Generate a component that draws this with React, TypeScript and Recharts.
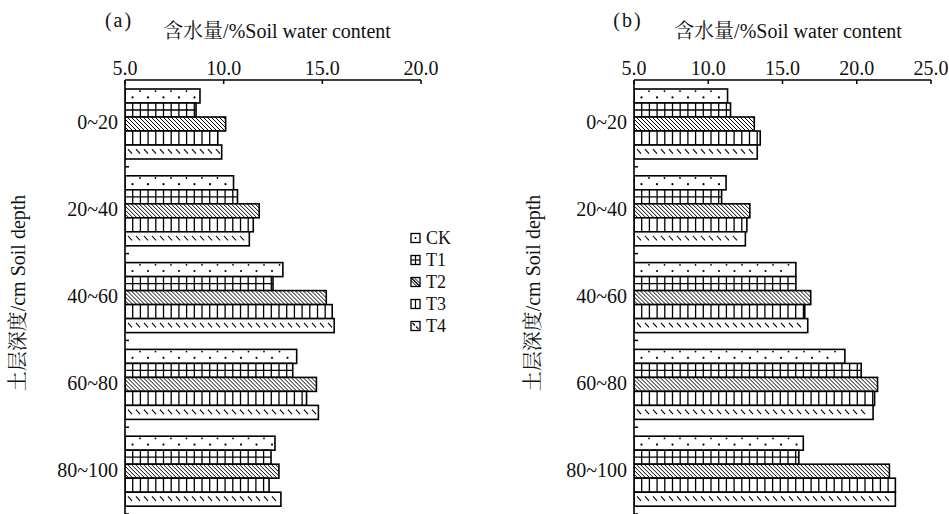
import React from 'react';
import { BarChart, Bar, XAxis, YAxis, Legend } from 'recharts';

const depths = ['0~20', '20~40', '40~60', '60~80', '80~100'];
const seriesNames = ['CK', 'T1', 'T2', 'T3', 'T4'];

// Panel (a)
const ckA = [8.8, 10.5, 13.0, 13.7, 12.6];
const t1A = [8.6, 10.7, 12.5, 13.5, 12.4];
const t2A = [10.1, 11.8, 15.2, 14.7, 12.8];
const t3A = [9.7, 11.5, 15.5, 14.2, 12.3];
const t4A = [9.9, 11.3, 15.6, 14.8, 12.9];
const ticksA = [5, 10, 15, 20];

// Panel (b)
const ckB = [11.3, 11.2, 15.9, 19.2, 16.4];
const t1B = [11.5, 10.9, 15.9, 20.3, 16.1];
const t2B = [13.1, 12.8, 16.9, 21.4, 22.2];
const t3B = [13.5, 12.6, 16.5, 21.2, 22.6];
const t4B = [13.3, 12.5, 16.7, 21.1, 22.6];
const ticksB = [5, 10, 15, 20, 25];

const xTitle = '含水量/%Soil water content';
const yTitle = '土层深度/cm Soil depth';

const FONT = "'Liberation Serif', 'Times New Roman', 'Noto Serif CJK SC', 'Noto Sans CJK SC', serif";

const build = (arrs: number[][]) =>
  depths.map((d, i) => ({
    depth: d,
    CK: arrs[0][i],
    T1: arrs[1][i],
    T2: arrs[2][i],
    T3: arrs[3][i],
    T4: arrs[4][i],
  }));

const dataA = build([ckA, t1A, t2A, t3A, t4A]);
const dataB = build([ckB, t1B, t2B, t3B, t4B]);

function patternLines(kind: string, x: number, y: number, w: number, h: number) {
  const els: React.ReactNode[] = [];
  const k = (i: number) => `${kind}-${i}`;
  if (kind === 'CK') {
    let i = 0;
    for (let c = x + 7.5; c < x + w - 2; c += 15.5) {
      els.push(<circle key={k(i++)} cx={c} cy={y + h * 0.6} r={1.1} fill="#000" />);
    }
    for (let c = x + 15; c < x + w - 2; c += 15.5) {
      els.push(<circle key={k(i++)} cx={c} cy={y + 2.2} r={0.9} fill="#000" />);
    }
  } else if (kind === 'T1' || kind === 'T3') {
    let i = 0;
    for (let c = x + 7.7; c < x + w - 1; c += 7.7) {
      els.push(<line key={k(i++)} x1={c} x2={c} y1={y} y2={y + h} stroke="#000" strokeWidth={1.3} />);
    }
    if (kind === 'T1') {
      els.push(<line key={k(i++)} x1={x} x2={x + w} y1={y + h / 2} y2={y + h / 2} stroke="#000" strokeWidth={1.3} />);
    }
  } else if (kind === 'T2') {
    let i = 0;
    for (let c = x - h; c < x + w; c += 4) {
      const t0 = Math.max(0, x - c);
      const t1 = Math.min(h, x + w - c);
      if (t1 > t0) {
        els.push(<line key={k(i++)} x1={c + t0} y1={y + t0} x2={c + t1} y2={y + t1} stroke="#000" strokeWidth={1} />);
      }
    }
  } else if (kind === 'T4') {
    let i = 0;
    for (let c = x + 3; c < x + w - 5; c += 8) {
      els.push(<line key={k(i++)} x1={c} y1={y + h * 0.3} x2={c + 4} y2={y + h * 0.62} stroke="#000" strokeWidth={1.1} />);
    }
  }
  return els;
}

const makeShape = (kind: string) => (p: any) => {
  const { x, y, width: w, height: h } = p;
  if (!(w > 0) || !(h > 0)) return <g />;
  return (
    <g>
      <rect x={x} y={y} width={w} height={h} fill="#fff" />
      {patternLines(kind, x, y, w, h)}
      <rect x={x} y={y} width={w} height={h} fill="none" stroke="#000" strokeWidth={1.6} />
    </g>
  );
};

const shapes: Record<string, any> = {
  CK: makeShape('CK'),
  T1: makeShape('T1'),
  T2: makeShape('T2'),
  T3: makeShape('T3'),
  T4: makeShape('T4'),
};

const TopTick = (p: any) => {
  const { x, y, payload } = p;
  return (
    <g>
      <line x1={x} x2={x} y1={y} y2={y + 4} stroke="#000" strokeWidth={1.5} />
      <text x={x} y={y - 5} textAnchor="middle" fontSize={20} fontFamily={FONT} style={{ fill: '#111' }}>
        {Number(payload.value).toFixed(1)}
      </text>
    </g>
  );
};

const BAND = 434 / 5;

const SideTick = (p: any) => {
  const { x, y, payload } = p;
  return (
    <g>
      <text x={x - 7} y={y + 6} textAnchor="end" fontSize={20} fontFamily={FONT} style={{ fill: '#111' }}>
        {payload.value}
      </text>
      <line x1={x} x2={x + 4} y1={y + BAND / 2} y2={y + BAND / 2} stroke="#000" strokeWidth={1.5} />
    </g>
  );
};

const XTitle = (p: any) => {
  const { tag, tagX, titleX } = p;
  return (
    <g fontFamily={FONT}>
      <text x={tagX} y={27} textAnchor="middle" fontSize={20} letterSpacing={2} style={{ fill: '#111' }}>{tag}</text>
      <text x={titleX} y={38} textAnchor="middle" fontSize={20} style={{ fill: '#111' }}>{xTitle}</text>
    </g>
  );
};

const YTitle = (p: any) => {
  const { cx } = p;
  const cy = 293;
  return (
    <text
      x={cx}
      y={cy}
      transform={`rotate(-90, ${cx}, ${cy})`}
      textAnchor="middle"
      dominantBaseline="central"
      fontSize={20}
      fontFamily={FONT}
      style={{ fill: '#111' }}
    >
      {yTitle}
    </text>
  );
};

const LegendIcon = ({ kind }: { kind: string }) => {
  const s = 9;
  const els: React.ReactNode[] = [];
  if (kind === 'CK') els.push(<circle key="d" cx={s / 2} cy={s / 2} r={1} fill="#000" />);
  if (kind === 'T1') {
    els.push(<line key="a" x1={s / 2} x2={s / 2} y1={0} y2={s} stroke="#000" strokeWidth={1.2} />);
    els.push(<line key="b" x1={0} x2={s} y1={s / 2} y2={s / 2} stroke="#000" strokeWidth={1.2} />);
  }
  if (kind === 'T2') {
    els.push(<line key="a" x1={0} y1={0} x2={s} y2={s} stroke="#000" strokeWidth={1.2} />);
    els.push(<line key="b" x1={0} y1={3} x2={s - 3} y2={s} stroke="#000" strokeWidth={1} />);
    els.push(<line key="c" x1={3} y1={0} x2={s} y2={s - 3} stroke="#000" strokeWidth={1} />);
  }
  if (kind === 'T3') els.push(<line key="a" x1={s / 2} x2={s / 2} y1={0} y2={s} stroke="#000" strokeWidth={1.2} />);
  if (kind === 'T4') {
    els.push(<line key="a" x1={1.5} y1={1.5} x2={4} y2={4} stroke="#000" strokeWidth={1.1} />);
    els.push(<line key="b" x1={5} y1={5} x2={7.5} y2={7.5} stroke="#000" strokeWidth={1.1} />);
  }
  return (
    <g>
      <rect x={0} y={0} width={s} height={s} fill="#fff" />
      {els}
      <rect x={0} y={0} width={s} height={s} fill="none" stroke="#000" strokeWidth={1.3} />
    </g>
  );
};

const LegendBox = () => (
  <svg width={70} height={112}>
    {seriesNames.map((n, i) => (
      <g key={n} transform={`translate(3, ${4.5 + i * 22})`}>
        <LegendIcon kind={n} />
        <text x={15} y={10.5} fontSize={18} fontFamily={FONT} style={{ fill: '#111' }}>
          {n}
        </text>
      </g>
    ))}
  </svg>
);

function Panel(props: {
  data: any[];
  ticks: number[];
  domain: [number, number];
  yAxisWidth: number;
  rightMargin: number;
  width: number;
  tag: string;
  tagX: number;
  titleX: number;
  yTitleX: number;
  withLegend?: boolean;
}) {
  const { data, ticks, domain, yAxisWidth, rightMargin, width, tag, tagX, titleX, yTitleX, withLegend } = props;
  return (
    <BarChart
      width={width}
      height={514}
      data={data}
      layout="vertical"
      margin={{ top: 0, right: rightMargin, bottom: 0, left: 0 }}
      barCategoryGap={9}
      barGap={0}
    >
      <XAxis
        type="number"
        orientation="top"
        domain={domain}
        ticks={ticks}
        interval={0}
        height={80}
        allowDataOverflow
        axisLine={{ stroke: '#000', strokeWidth: 1.6 }}
        tickLine={false}
        tickSize={0}
        tickMargin={0}
        tick={<TopTick />}
        label={<XTitle tag={tag} tagX={tagX} titleX={titleX} />}
      />
      <YAxis
        type="category"
        dataKey="depth"
        width={yAxisWidth}
        axisLine={{ stroke: '#000', strokeWidth: 1.6 }}
        tickLine={false}
        tickSize={0}
        tickMargin={0}
        interval={0}
        tick={<SideTick />}
        label={<YTitle cx={yTitleX} />}
      />
      {withLegend && (
        <Legend
          layout="vertical"
          align="center"
          verticalAlign="middle"
          content={() => <LegendBox />}
          wrapperStyle={{ position: 'absolute', left: 408, top: 229, width: 70, height: 112 }}
        />
      )}
      {seriesNames.map((n) => (
        <Bar key={n} dataKey={n} isAnimationActive={false} shape={shapes[n]} />
      ))}
    </BarChart>
  );
}

export default function App() {
  return (
    <div style={{ position: 'absolute', left: 0, top: 0, width: 949, height: 514, background: '#fff', overflow: 'hidden' }}>
      <div style={{ position: 'absolute', left: 0, top: 0 }}>
        <Panel
          data={dataA}
          ticks={ticksA}
          domain={[5, 20]}
          yAxisWidth={125}
          rightMargin={54}
          width={475}
          tag="(a)"
          tagX={119}
          titleX={277}
          yTitleX={18}
          withLegend
        />
      </div>
      <div style={{ position: 'absolute', left: 475, top: 0 }}>
        <Panel
          data={dataB}
          ticks={ticksB}
          domain={[5, 25]}
          yAxisWidth={159}
          rightMargin={18}
          width={474}
          tag="(b)"
          tagX={153}
          titleX={313}
          yTitleX={58}
        />
      </div>
    </div>
  );
}
